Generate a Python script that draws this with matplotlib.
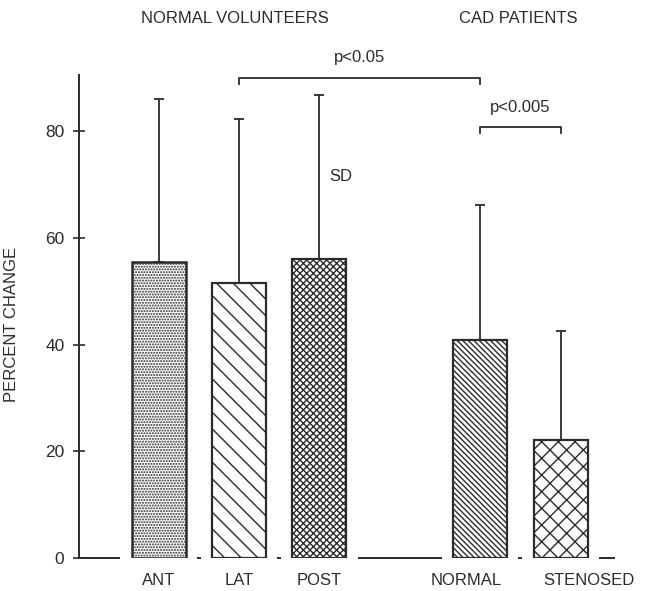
import matplotlib.pyplot as plt
import matplotlib.transforms as mtransforms

plt.rcParams['font.family'] = ['Liberation Sans', 'DejaVu Sans']
plt.rcParams['hatch.linewidth'] = 1.0

# group means and standard deviations (percent change)
regions = ['ANT', 'LAT', 'POST', 'NORMAL', 'STENOSED']
positions = [0, 1, 2, 4, 5]
means = [55.4, 51.5, 56.0, 40.8, 22.1]
sds = [30.6, 30.7, 30.7, 25.3, 20.4]
hatches = ['......', '\\\\', 'xxxxx', '\\\\\\\\\\\\', 'xx']

ink = '#2b2b2b'
width = 0.67

fig = plt.figure(figsize=(6.48, 5.91), dpi=100)
ax = fig.add_axes([79 / 648, 33 / 591, 546 / 648, 483 / 591])

bars = ax.bar(positions, means, width=width, color='white', edgecolor=ink,
              linewidth=1.6, zorder=3)
for b, h in zip(bars, hatches):
    b.set_hatch(h)
bars[0].set_linewidth(1.8)

# SD bars drawn upward only
ax.errorbar(positions, means, yerr=[[0] * len(sds), sds], fmt='none',
            ecolor=ink, elinewidth=1.3, capsize=3.5, capthick=1.3, zorder=2)

ax.set_xlim(-0.99, 5.8)
ax.set_ylim(0, 90.5)

# broken baseline between the bars
gap = 0.14
edges = [-0.99]
for p in positions:
    edges += [p - width / 2 - gap, p + width / 2 + gap]
edges.append(5.68)
for x0, x1 in zip(edges[0::2], edges[1::2]):
    ax.hlines(0, x0, x1, color=ink, linewidth=1.4, clip_on=False)

for s in ['top', 'right', 'bottom']:
    ax.spines[s].set_visible(False)
ax.spines['left'].set_color(ink)
ax.spines['left'].set_linewidth(1.4)

ax.set_yticks([0, 20, 40, 60, 80])
ax.tick_params(axis='y', direction='inout', length=9, width=1.2, color=ink,
               labelsize=12.5, labelcolor=ink, pad=6)
ax.set_xticks(positions)
ax.set_xticklabels(regions)
ax.tick_params(axis='x', length=0, labelsize=12, labelcolor=ink, pad=11)
labels = ax.get_xticklabels()
labels[3].set_transform(labels[3].get_transform() +
                        mtransforms.ScaledTranslation(-0.14, 0, fig.dpi_scale_trans))
labels[4].set_transform(labels[4].get_transform() +
                        mtransforms.ScaledTranslation(0.28, 0, fig.dpi_scale_trans))

ax.set_ylabel('PERCENT CHANGE', fontsize=12, color=ink)
ax.yaxis.set_label_coords(-0.11, 0.483)

# significance brackets
def bracket(x0, x1, y, drop, label, ty):
    ax.plot([x0, x0, x1, x1], [y - drop, y, y, y - drop], color=ink,
            linewidth=1.3, clip_on=False)
    ax.text((x0 + x1) / 2, ty, label, ha='center', va='center',
            fontsize=12, color=ink, clip_on=False)

bracket(1, 4, 89.9, 1.0, 'p<0.05', 93.7)
bracket(4, 5, 80.7, 1.0, 'p<0.005', 84.5)

ax.text(2.27, 71.4, 'SD', ha='center', va='center', fontsize=12, color=ink)

fig.text(235 / 648, 1 - 18.6 / 591, 'NORMAL VOLUNTEERS', ha='center',
         va='center', fontsize=12, color=ink)
fig.text(518 / 648, 1 - 18.6 / 591, 'CAD PATIENTS', ha='center',
         va='center', fontsize=12, color=ink)

fig.savefig('out.png', dpi=100)
